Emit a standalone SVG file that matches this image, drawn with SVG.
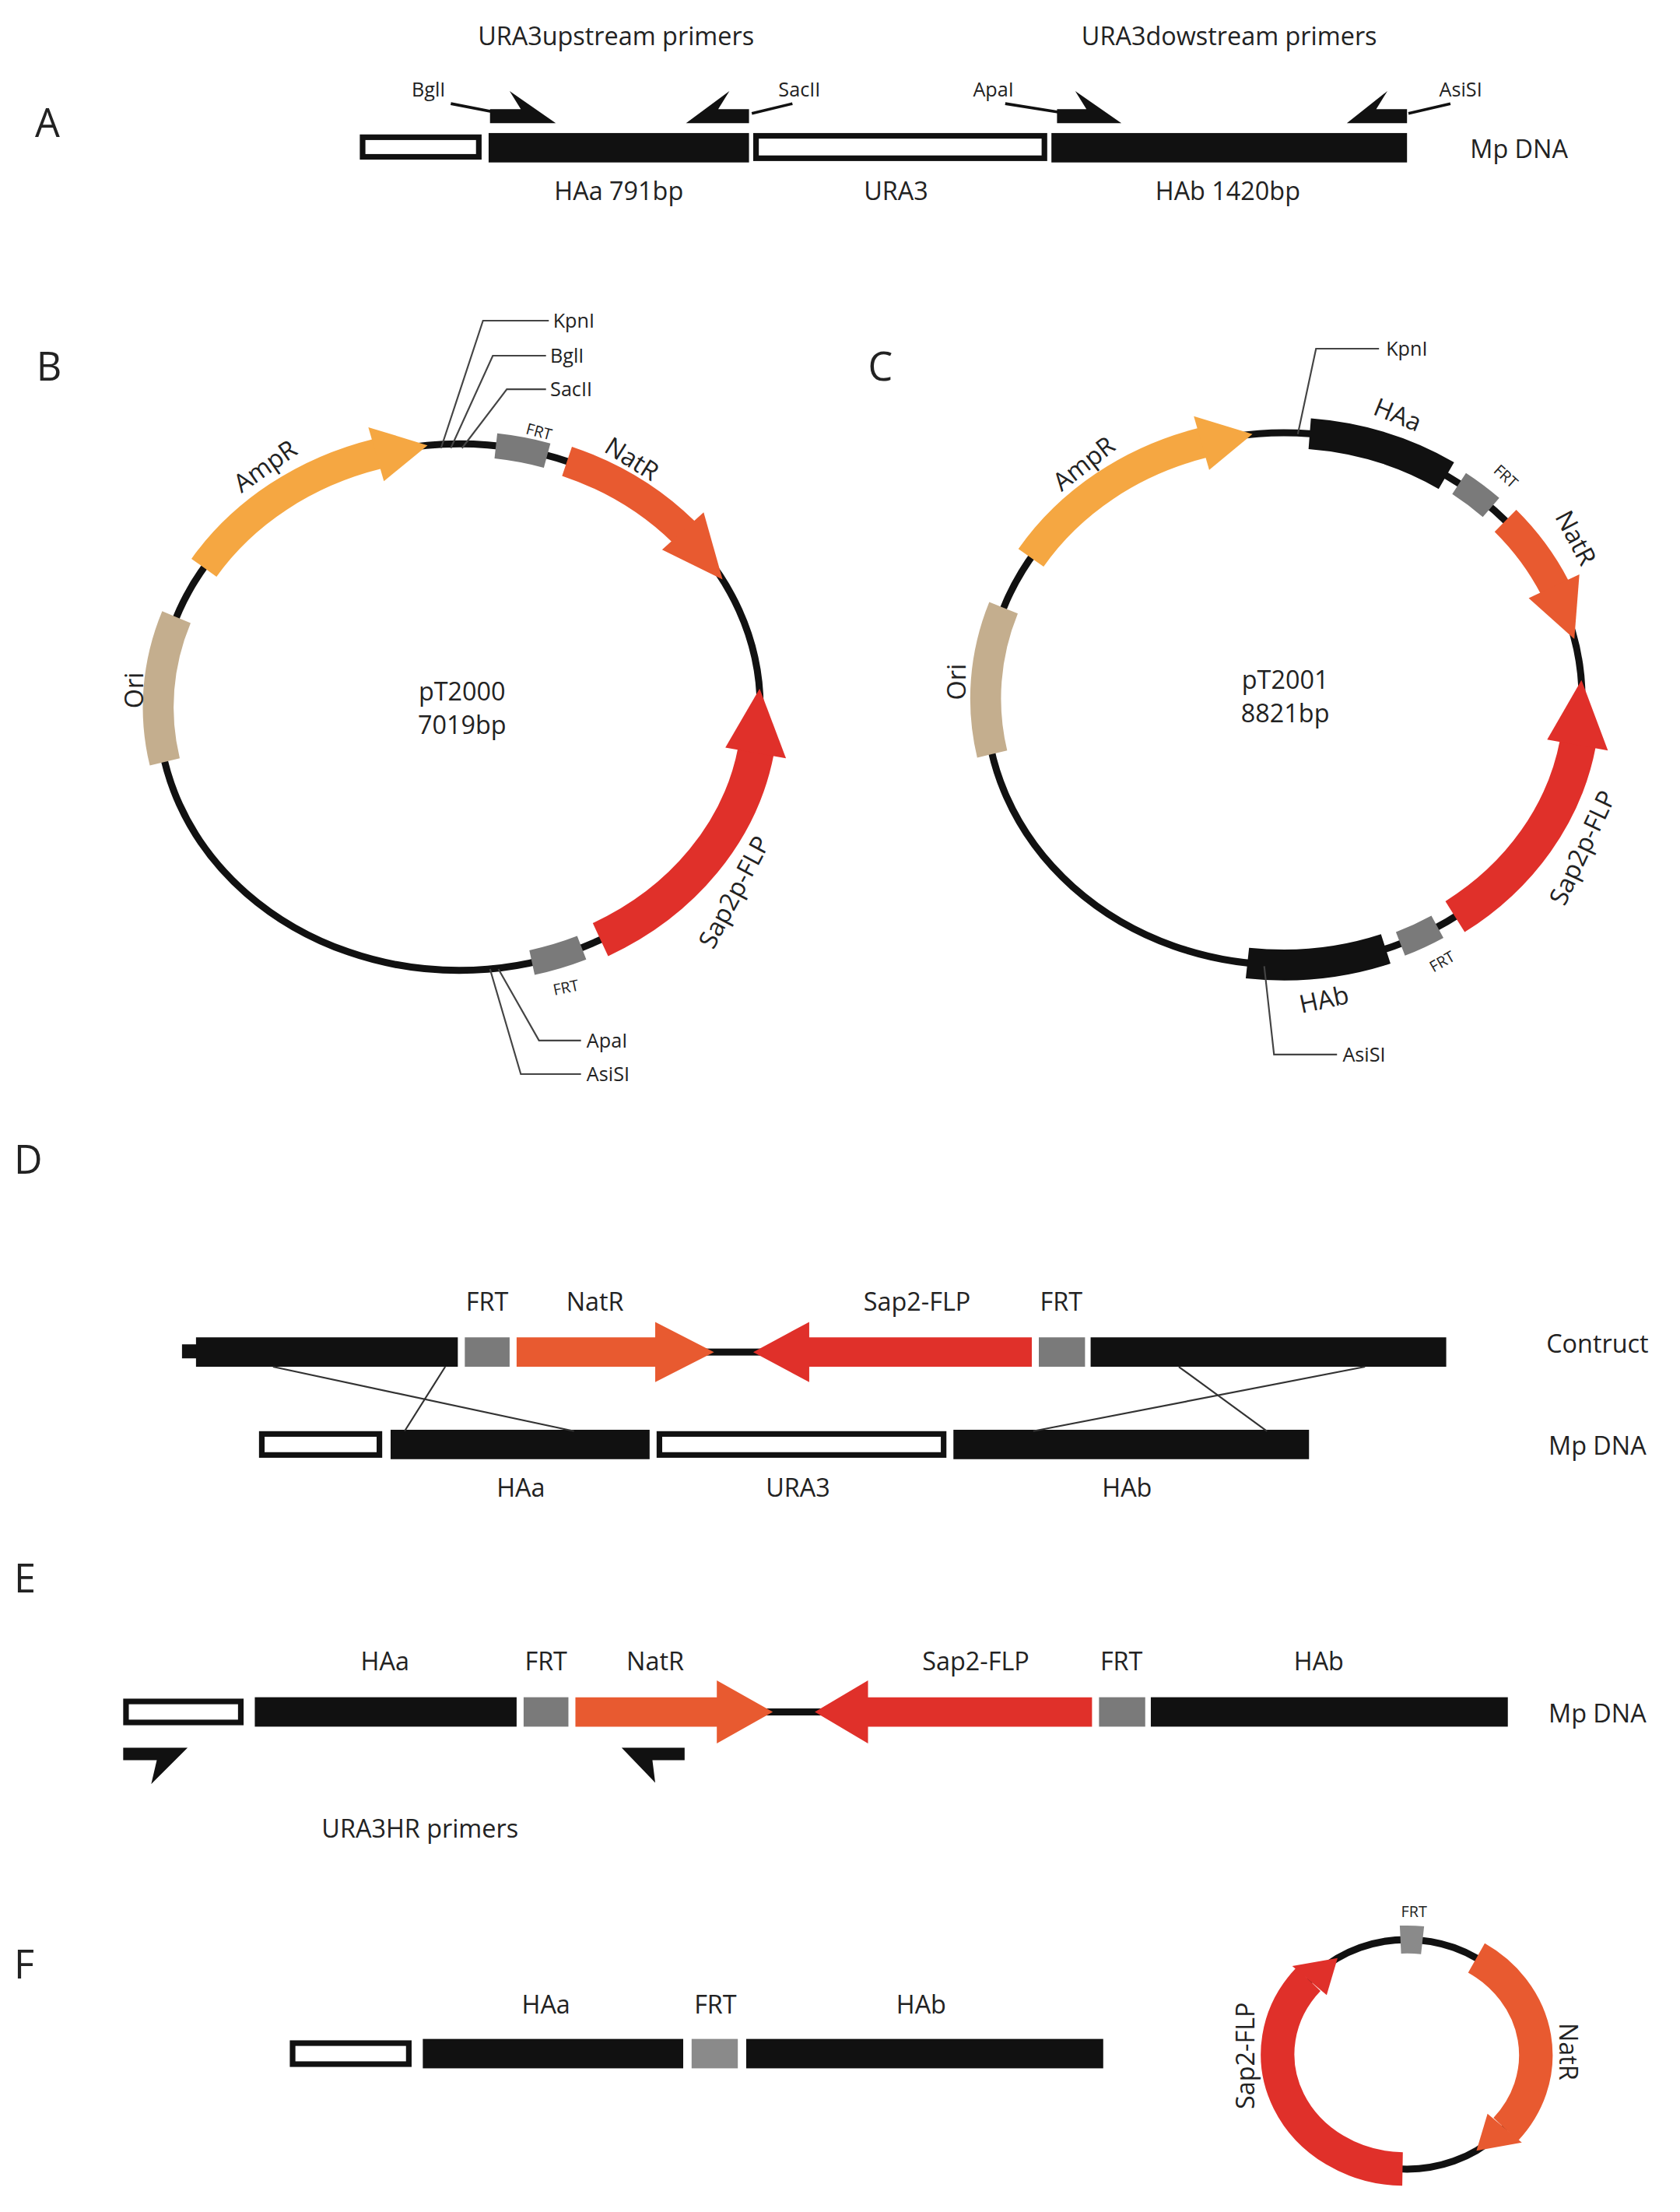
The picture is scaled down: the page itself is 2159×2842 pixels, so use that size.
<svg xmlns="http://www.w3.org/2000/svg" width="2159" height="2842" viewBox="0 0 2159 2842">
<style>
text{font-family:"Open Sans","Liberation Sans",sans-serif;font-size:18px;fill:#222;text-anchor:middle}
.pl{font-size:28px;text-anchor:start}
.sm{font-size:14px;text-anchor:start}
.xs{font-size:11px}
.blk{fill:#111}
.open{fill:#fff;stroke:#111;stroke-width:4}
.gray{fill:#7a7a7a}
.nat{fill:#e85a30}
.sap{fill:#e0302a}
.bb{fill:none;stroke:#111;stroke-width:5}
.site{fill:none;stroke:#444;stroke-width:1.2}
.arc{fill:none}
</style>
<rect width="2159" height="2842" fill="#fff"/>
<g transform="scale(1.7992)">
<!-- Panel A -->
<g id="panelA">
<text class="pl" x="25" y="98">A</text>
<text x="440" y="32">URA3upstream primers</text>
<text x="878" y="32">URA3dowstream primers</text>
<rect class="open" x="259" y="98" width="83" height="14"/>
<rect class="blk" x="349" y="95" width="186" height="21"/>
<rect class="open" x="540" y="97" width="206" height="16"/>
<rect class="blk" x="751" y="95" width="254" height="21"/>
<text x="442" y="143">HAa 791bp</text>
<text x="640" y="143">URA3</text>
<text x="877" y="143">HAb 1420bp</text>
<text x="1085" y="113">Mp DNA</text>
<text class="sm" x="294" y="69">BglI</text>
<text class="sm" x="556" y="69">SacII</text>
<text class="sm" x="695" y="69">ApaI</text>
<text class="sm" x="1028" y="69">AsiSI</text>
<path class="site" style="stroke:#111;stroke-width:2" d="M322,74 L358,81 M537,81 L566,74 M718,74 L762,81 M1006,81 L1036,74"/>
<path class="blk" d="M350,78 L372,78 L364,65 L397,88 L350,88 Z"/>
<path class="blk" d="M535,78 L513,78 L521,65 L490,88 L535,88 Z"/>
<path class="blk" d="M755,78 L776,78 L768,65 L801,88 L755,88 Z"/>
<path class="blk" d="M1005,78 L983,78 L991,65 L962,88 L1005,88 Z"/>
</g>
<!-- Panel B -->
<g id="panelB">
<text class="pl" x="26" y="272">B</text>
<ellipse class="bb" cx="328" cy="505" rx="215" ry="188"/>
<path class="arc" stroke="#c4ae8e" stroke-width="22" d="M117.7,544.1 A215,188 0 0,1 126.0,440.7"/>
<path class="arc" stroke="#f5a742" stroke-width="22" d="M145.7,405.4 A215,188 0 0,1 269.5,324.1"/>
<path fill="#f5a742" d="M263.1,305.1 L305.4,318 L274.2,343.6 Z"/>
<path class="arc" stroke="#7a7a7a" stroke-width="18" d="M354.2,318.4 A215,188 0 0,1 390.8,325.3"/>
<path class="arc" stroke="#e85a30" stroke-width="22" d="M405.0,329.4 A215,188 0 0,1 488.5,380"/>
<path class="nat" d="M502.6,365.8 L516.1,413.8 L472.9,392.6 Z"/>
<path class="arc" stroke="#e0302a" stroke-width="26" d="M428.9,671.0 A215,188 0 0,0 540,536"/>
<path class="sap" d="M561.4,541.5 L542.6,491.8 L518.1,533.9 Z"/>
<path class="arc" stroke="#7a7a7a" stroke-width="18" d="M415.5,676.8 A215,188 0 0,1 380.0,687.4"/>
<path class="site" d="M315,320 L345,229 L392,229 M322,320 L352,254 L390,254 M330,320 L362,278 L390,278 M356,692 L385,743 L415,743 M350,692 L372,767 L415,767"/>
<text class="sm" x="395" y="234">KpnI</text>
<text class="sm" x="393" y="259">BglI</text>
<text class="sm" x="393" y="283">SacII</text>
<text class="sm" x="419" y="748">ApaI</text>
<text class="sm" x="419" y="772">AsiSI</text>
<text x="330" y="500">pT2000</text>
<text x="330" y="524">7019bp</text>
<text transform="translate(193,338) rotate(-35)">AmpR</text>
<text transform="translate(448,333) rotate(32)">NatR</text>
<text transform="translate(102,493) rotate(-90)">Ori</text>
<text transform="translate(530,640) rotate(-62)">Sap2p-FLP</text>
<text class="xs" transform="translate(384,312) rotate(15)">FRT</text>
<text class="xs" transform="translate(405,709) rotate(-12)">FRT</text>
</g>
<!-- Panel C -->
<g id="panelC">
<text class="pl" x="620" y="272">C</text>
<ellipse class="bb" cx="917" cy="499" rx="213" ry="190"/>
<path class="arc" stroke="#c4ae8e" stroke-width="22" d="M708.7,538.5 A213,190 0 0,1 716.8,434.0"/>
<path class="arc" stroke="#f5a742" stroke-width="22" d="M736.4,398.3 A213,190 0 0,1 859,316.2"/>
<path fill="#f5a742" d="M852.7,297.2 L894.6,310.0 L863.7,335.6 Z"/>
<path class="arc" stroke="#111" stroke-width="22" d="M935.5,309.7 A213,190 0 0,1 1033.1,339.6"/>
<path class="arc" stroke="#7a7a7a" stroke-width="18" d="M1042.2,345.3 A213,190 0 0,1 1065.0,362.4"/>
<path class="arc" stroke="#e85a30" stroke-width="22" d="M1075.3,371.9 A213,190 0 0,1 1110.5,419.5"/>
<path class="nat" d="M1128.1,410.2 L1124.5,456.3 L1091.9,427.1 Z"/>
<path class="arc" stroke="#e0302a" stroke-width="26" d="M1039.3,654.6 A213,190 0 0,0 1127,531"/>
<path class="sap" d="M1148.5,535.9 L1129.6,485.7 L1105.1,528.2 Z"/>
<path class="arc" stroke="#7a7a7a" stroke-width="18" d="M1026.7,661.8 A213,190 0 0,1 1000.3,674.0"/>
<path class="arc" stroke="#111" stroke-width="22" d="M989.8,677.6 A213,190 0 0,1 891.0,687.7"/>
<path class="site" d="M927,310 L940,249 L985,249 M903,690 L910,753 L955,753"/>
<text class="sm" x="990" y="254">KpnI</text>
<text class="sm" x="959" y="758">AsiSI</text>
<text x="918" y="492">pT2001</text>
<text x="918" y="516">8821bp</text>
<text transform="translate(778,336) rotate(-38)">AmpR</text>
<text transform="translate(996,302) rotate(22)">HAa</text>
<text class="xs" transform="translate(1073,343) rotate(42)">FRT</text>
<text transform="translate(1120,387) rotate(62)">NatR</text>
<text transform="translate(1136,608) rotate(-65)">Sap2p-FLP</text>
<text class="xs" transform="translate(1032,690) rotate(-30)">FRT</text>
<text transform="translate(947,720) rotate(-12)">HAb</text>
<text transform="translate(690,487) rotate(-90)">Ori</text>
</g>
<!-- Panel D -->
<g id="panelD">
<text class="pl" x="10" y="838">D</text>
<rect class="blk" x="130" y="960" width="12" height="10"/>
<rect class="blk" x="140" y="955" width="187" height="21"/>
<rect class="gray" x="332" y="955" width="32" height="21"/>
<rect class="blk" x="500" y="963" width="45" height="5"/>
<path class="nat" d="M369,955 L468,955 L468,944 L510,965.5 L468,987 L468,976 L369,976 Z"/>
<path class="sap" d="M737,955 L578,955 L578,944 L538,965.5 L578,987 L578,976 L737,976 Z"/>
<rect class="gray" x="742" y="955" width="33" height="21"/>
<rect class="blk" x="779" y="955" width="254" height="21"/>
<text x="348" y="936">FRT</text>
<text x="425" y="936">NatR</text>
<text x="655" y="936">Sap2-FLP</text>
<text x="758" y="936">FRT</text>
<text x="1141" y="966">Contruct</text>
<rect class="open" x="187" y="1024" width="84" height="15"/>
<rect class="blk" x="279" y="1021" width="185" height="21"/>
<rect class="open" x="471" y="1024" width="203" height="15"/>
<rect class="blk" x="681" y="1021" width="254" height="21"/>
<text x="372" y="1069">HAa</text>
<text x="570" y="1069">URA3</text>
<text x="805" y="1069">HAb</text>
<text x="1141" y="1039">Mp DNA</text>
</g>
<g id="connectors">
<path class="site" style="stroke:#333" d="M195,976 L410,1022 M318,976 L289,1022 M842,976 L905,1022 M975,976 L738,1022"/>
</g>
<!-- Panel E -->
<g id="panelE">
<text class="pl" x="10" y="1137">E</text>
<rect class="open" x="90" y="1215" width="82" height="15"/>
<rect class="blk" x="182" y="1212" width="187" height="21"/>
<rect class="gray" x="374" y="1212" width="32" height="21"/>
<rect class="blk" x="540" y="1220" width="48" height="5"/>
<path class="nat" d="M411,1212 L512,1212 L512,1200 L552,1222.5 L512,1245 L512,1233 L411,1233 Z"/>
<path class="sap" d="M780,1212 L620,1212 L620,1200 L582,1222.5 L620,1245 L620,1233 L780,1233 Z"/>
<rect class="gray" x="785" y="1212" width="33" height="21"/>
<rect class="blk" x="822" y="1212" width="255" height="21"/>
<text x="275" y="1193">HAa</text>
<text x="390" y="1193">FRT</text>
<text x="468" y="1193">NatR</text>
<text x="697" y="1193">Sap2-FLP</text>
<text x="801" y="1193">FRT</text>
<text x="942" y="1193">HAb</text>
<text x="1141" y="1230">Mp DNA</text>
<path class="blk" d="M88,1248 L134,1248 L108,1274 L112,1257 L88,1257 Z"/>
<path class="blk" d="M489,1248 L444,1248 L468,1273 L466,1257 L489,1257 Z"/>
<text x="300" y="1312">URA3HR primers</text>
</g>
<!-- Panel F -->
<g id="panelF">
<text class="pl" x="10" y="1413">F</text>
<rect class="open" x="209" y="1459" width="83" height="15"/>
<rect class="blk" x="302" y="1456" width="186" height="21"/>
<rect fill="#8a8a8a" x="494" y="1456" width="33" height="21"/>
<rect class="blk" x="533" y="1456" width="255" height="21"/>
<text x="390" y="1438">HAa</text>
<text x="511" y="1438">FRT</text>
<text x="658" y="1438">HAb</text>
</g>
<g id="plasmidF">
<ellipse class="bb" cx="1005" cy="1467" rx="91" ry="82"/>
<path class="arc" stroke="#8a8a8a" stroke-width="20" d="M1000.3,1385.1 A91,82 0 0,1 1016.1,1385.6"/>
<path class="arc" stroke="#e85a30" stroke-width="24" d="M1054.6,1398.2 A91,82 0 0,1 1075.5,1520.5"/>
<path class="nat" d="M1087.0,1530.0 L1054.6,1535.8 L1062.5,1509.4 Z"/>
<path class="arc" stroke="#e0302a" stroke-width="24" d="M1001.8,1548.9 A91,82 0 0,1 934.5,1413.5"/>
<path class="sap" d="M923.0,1404.0 L955.4,1398.2 L947.6,1424.6 Z"/>
<text class="xs" x="1010" y="1369">FRT</text>
<text transform="translate(1114,1465) rotate(90)">NatR</text>
<text transform="translate(896,1468) rotate(-90)">Sap2-FLP</text>
</g>
</g>
</svg>
